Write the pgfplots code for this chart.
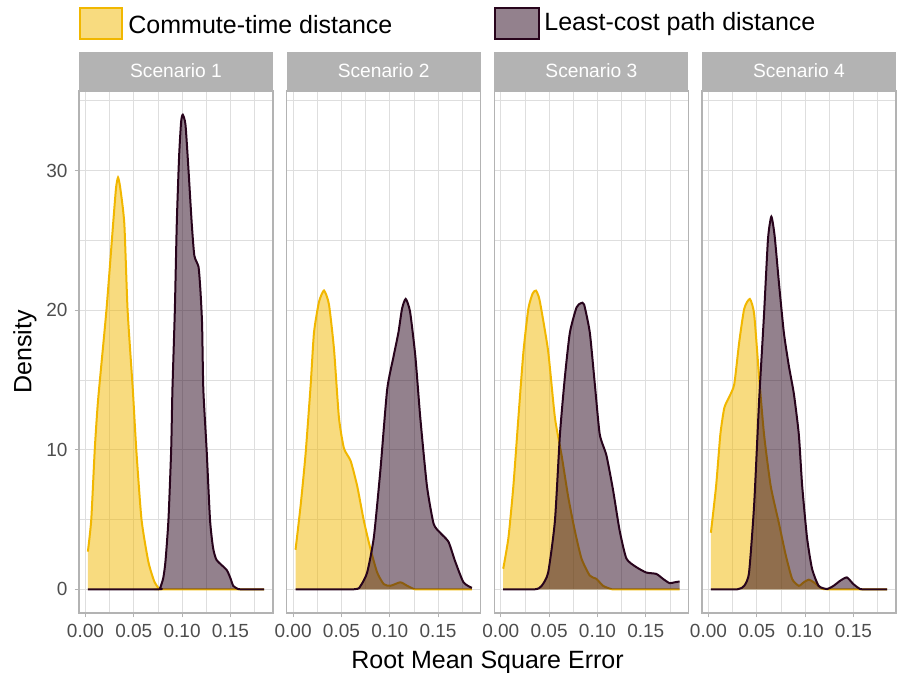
\documentclass[border=0pt]{standalone}
\usepackage{pgfplots}
\usepackage{pgfplotstable}
\pgfplotsset{compat=1.18}
\usepackage{fontspec}
\setmainfont{Liberation Sans}

\definecolor{cyel}{RGB}{241,183,0}
\definecolor{cpur}{RGB}{40,4,28}
\definecolor{grey87}{RGB}{222,222,222}
\definecolor{grey70}{RGB}{179,179,179}
\definecolor{grey30}{RGB}{77,77,77}

% Scenario 1
\pgfplotstableread{
x y
0.0025 2.7
0.006 5
0.0096 10
0.0131 13.6
0.0217 20
0.0292 26.7
0.0317 28.8
0.0337 29.5
0.0359 28.8
0.0402 26.2
0.0436 20
0.049 14.3
0.0526 10
0.058 5
0.065 2
0.071 0.6
0.076 0.05
0.080 0
0.185 0
}\yA
\pgfplotstableread{
x y
0.0025 0
0.075 0
0.0773 0.1
0.0805 0.8
0.0828 2
0.0859 5
0.0887 10
0.090 14.3
0.0925 20
0.0945 26.2
0.0969 31
0.099 33.5
0.1007 34.0
0.1035 33.3
0.1065 30.2
0.110 26.2
0.1127 23.9
0.117 23.1
0.119 21.4
0.1207 19
0.122 14.3
0.1254 10
0.1289 5
0.132 3
0.1357 2.1
0.146 1.4
0.150 0.8
0.153 0.24
0.158 0.02
0.162 0
0.185 0
}\pA
% Scenario 2
\pgfplotstableread{
x y
0.0025 2.83
0.0079 6.1
0.013 9.8
0.0182 14.7
0.0216 18.4
0.0268 20.6
0.032 21.4
0.0371 20.4
0.0423 17.2
0.0474 12.3
0.0526 10.1
0.0595 9.2
0.0663 7.4
0.0732 4.9
0.080 2.9
0.087 1.2
0.0938 0.37
0.1007 0.25
0.111 0.5
0.118 0.25
0.125 0.02
0.130 0
0.185 0
}\yB
\pgfplotstableread{
x y
0.0025 0
0.063 0
0.0698 0.25
0.0766 1.2
0.0835 3.7
0.0904 8.6
0.0973 14.3
0.104 16.7
0.109 18.4
0.1127 20.1
0.1165 20.8
0.121 19.9
0.1265 16.7
0.1316 12.3
0.1385 7.4
0.1454 4.7
0.1522 4.05
0.1608 3.4
0.1677 2.0
0.1763 0.5
0.185 0.1
}\pB
% Scenario 3
\pgfplotstableread{
x y
0.0025 1.47
0.0079 3.7
0.013 7.4
0.0182 12.3
0.0234 17.0
0.0285 20.1
0.0330 21.2
0.0364 21.4
0.0395 20.9
0.0423 19.9
0.0491 17.0
0.056 12.3
0.0629 9.6
0.0698 6.6
0.0766 4.2
0.0835 2.2
0.0921 0.98
0.099 0.74
0.1058 0.25
0.114 0.02
0.120 0
0.185 0
}\yC
\pgfplotstableread{
x y
0.0025 0
0.0354 0
0.0423 0.25
0.049 1.2
0.056 4.9
0.0612 11.1
0.0663 15.2
0.0715 18.4
0.0784 20.2
0.0830 20.5
0.0862 20.4
0.0921 18.4
0.0973 14.7
0.1024 11.1
0.1093 9.6
0.1162 7.1
0.1230 4.2
0.130 2.2
0.140 1.6
0.1505 1.2
0.161 1.1
0.168 0.74
0.1746 0.44
0.180 0.5
0.185 0.56
}\pC
% Scenario 4
\pgfplotstableread{
x y
0.0025 4.05
0.0079 7.4
0.0123 11.1
0.0164 13.0
0.0216 13.8
0.0267 14.7
0.0318 17.7
0.037 20.1
0.0428 20.8
0.0473 19.7
0.0524 15.2
0.0575 11.1
0.0644 7.4
0.073 4.7
0.0798 2.5
0.0866 0.74
0.0935 0.25
0.0986 0.5
0.1038 0.69
0.109 0.5
0.1158 0.12
0.1226 0
0.185 0
}\yD
\pgfplotstableread{
x y
0.0025 0
0.030 0
0.037 0.25
0.042 1.2
0.0473 6.1
0.0524 13.5
0.0575 19.7
0.0616 25.1
0.0651 26.7
0.0685 25.3
0.073 21.9
0.078 18.4
0.0832 16.0
0.0884 14.0
0.0935 11.1
0.097 7.4
0.102 3.7
0.1072 1.47
0.114 0.25
0.1226 0.02
0.1295 0.25
0.1363 0.61
0.1432 0.85
0.15 0.37
0.157 0.02
0.165 0
0.185 0
}\pD

\pgfplotsset{
  panel/.style={
    scale only axis, width=97bp, height=261bp,
    xmin=-0.0067, xmax=0.1941, ymin=-1.7, ymax=35.7,
    xtick={0,0.05,0.1,0.15}, minor xtick={0.025,0.075,0.125,0.175},
    ytick={0,10,20,30}, minor ytick={5,15,25,35},
    grid=both,
    major grid style={grey87, line width=0.55bp},
    minor grid style={grey87, line width=0.3bp},
    axis line style={grey70, line width=0.7bp},
    tick align=outside, major tick length=2.2bp, minor tick length=0bp,
    tick style={grey70, line width=0.55bp},
    xtick pos=bottom, ytick pos=left,
    /pgf/number format/assume math mode=true,
    xticklabel style={font=\fontsize{9.5bp}{10bp}\selectfont, text=grey30,
      /pgf/number format/.cd, fixed, fixed zerofill, precision=2},
    yticklabel style={font=\fontsize{9.5bp}{10bp}\selectfont, text=grey30},
  },
  nolab/.style={yticklabels={}, ytick style={draw=none}},
  yfill/.style={draw=none, fill=cyel, fill opacity=0.5, smooth, tension=0.35},
  yline/.style={cyel, line width=1bp, smooth, tension=0.35},
  pfill/.style={draw=none, fill=cpur, fill opacity=0.5, smooth, tension=0.35},
  pline/.style={cpur, line width=1bp, smooth, tension=0.35},
}

\newcommand{\strip}[2]{%
  \fill[grey70] (#1,291.5bp) rectangle ++(97bp,19bp);
  \node[text=white, font=\fontsize{9.6bp}{10bp}\selectfont] at ([xshift=48.5bp]#1,301bp) {#2};
}

\begin{document}
\begin{tikzpicture}
\path[use as bounding box] (0,0) rectangle (449.5bp,336.5bp);

\begin{axis}[panel, at={(39.5bp,30bp)}, anchor=south west]
\addplot[yfill] table {\yA} \closedcycle;
\addplot[yline] table {\yA};
\addplot[pfill] table {\pA} \closedcycle;
\addplot[pline] table {\pA};
\end{axis}

\begin{axis}[panel, nolab, at={(143.33bp,30bp)}, anchor=south west]
\addplot[yfill] table {\yB} \closedcycle;
\addplot[yline] table {\yB};
\addplot[pfill] table {\pB} \closedcycle;
\addplot[pline] table {\pB};
\end{axis}

\begin{axis}[panel, nolab, at={(247.17bp,30bp)}, anchor=south west]
\addplot[yfill] table {\yC} \closedcycle;
\addplot[yline] table {\yC};
\addplot[pfill] table {\pC} \closedcycle;
\addplot[pline] table {\pC};
\end{axis}

\begin{axis}[panel, nolab, at={(351bp,30bp)}, anchor=south west]
\addplot[yfill] table {\yD} \closedcycle;
\addplot[yline] table {\yD};
\addplot[pfill] table {\pD} \closedcycle;
\addplot[pline] table {\pD};
\end{axis}

\strip{39.5bp}{Scenario 1}
\strip{143.33bp}{Scenario 2}
\strip{247.17bp}{Scenario 3}
\strip{351bp}{Scenario 4}

% axis titles
\node[rotate=90, font=\fontsize{12.5bp}{13bp}\selectfont, anchor=center] at (12.5bp,160.5bp) {Density};
\node[font=\fontsize{12.5bp}{13bp}\selectfont, anchor=base, inner sep=0pt] at (243.75bp,2.4bp) {Root Mean Square Error};

% legend
\draw[cyel, line width=0.9bp, fill=cyel, fill opacity=0.5] (40bp,317bp) rectangle (61bp,332.5bp);
\node[anchor=west, inner sep=0pt, font=\fontsize{12.5bp}{13bp}\selectfont] at (64bp,324.3bp) {Commute-time distance};
\draw[cpur, line width=0.9bp, fill=cpur, fill opacity=0.5] (247.5bp,317bp) rectangle (269.5bp,332.5bp);
\node[anchor=west, inner sep=0pt, font=\fontsize{12.5bp}{13bp}\selectfont] at (272bp,324.3bp) {Least-cost path distance};
\end{tikzpicture}
\end{document}
